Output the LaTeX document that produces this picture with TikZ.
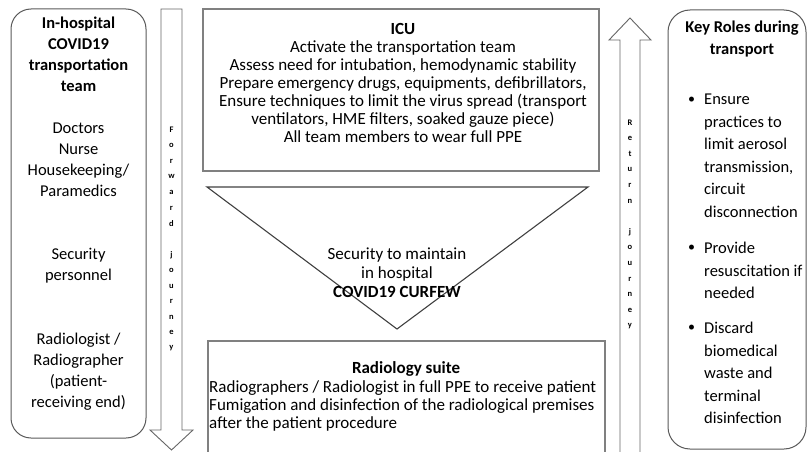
\documentclass[tikz,border=0pt]{standalone}
\usepackage{fontspec}
\setmainfont{Carlito}
\usepackage{tikz}
\usetikzlibrary{positioning}

\tikzset{
  sidebox/.style={draw=black!65, line width=1pt, rounded corners=20pt, inner sep=0pt},
  stagebox/.style={draw=black!50, line width=1.6pt, inner sep=0pt},
  blockarrow/.style={draw=black!60, line width=0.9pt, fill=white},
  sidetext/.style={font=\fontsize{16.5}{21}\selectfont, align=center, inner sep=0pt},
  stagetext/.style={font=\fontsize{17}{18}\selectfont, align=center, inner sep=0pt},
  roletext/.style={font=\fontsize{16.5}{22.5}\selectfont, align=left, inner sep=0pt, anchor=west},
  arrowletter/.style={font=\fontsize{8.5}{8.5}\selectfont\bfseries, inner sep=0pt}
}

\begin{document}
\begin{tikzpicture}[x=1pt, y=-1pt]
  \useasboundingbox (0,0) rectangle (809,452);
  \clip (0,0) rectangle (809,452);

  % left panel: the team
  \node[sidebox, minimum width=135pt, minimum height=429pt] (team) at (78.5,223.5) {};
  \node[sidetext, font=\fontsize{16.5}{21}\selectfont\bfseries] (teamtitle) at (78.5,54)
    {In-hospital\\COVID19\\transportation\\team};
  \node[sidetext] (staff) at (78.5,160) {Doctors\\Nurse\\Housekeeping/\\Paramedics};
  \node[sidetext] (security) at (78.5,266) {Security\\personnel};
  \node[sidetext] (radio) at (78.5,372) {Radiologist /\\Radiographer\\(patient-\\receiving end)};

  % forward journey arrow
  \coordinate (fwdtop) at (171.5,9);
  \coordinate (fwdtip) at (171.5,450);
  \draw[blockarrow] (161,9) -- (161,430) -- (150,430) -- (fwdtip) -- (193,430) -- (182,430) -- (182,9) -- cycle;
  \foreach \ch [count=\i] in {F,o,r,w,a,r,d}
    \node[arrowletter] (fwd\i) at ({171.5},{130+15.6*(\i-1)}) {\ch};
  \foreach \ch [count=\i] in {j,o,u,r,n,e,y}
    \node[arrowletter] (jfwd\i) at ({171.5},{130+15.6*(\i+7)}) {\ch};

  % ICU
  \node[stagebox, minimum width=396pt, minimum height=162pt] (icu) at (401,90) {};
  \node[stagetext] (icutext) at (403,83)
    {\textbf{ICU}\\
     Activate the transportation team\\
     Assess need for intubation, hemodynamic stability\\
     Prepare emergency drugs, equipments, defibrillators,\\
     Ensure techniques to limit the virus spread (transport\\
     ventilators, HME filters, soaked gauze piece)\\
     All team members to wear full PPE};

  % curfew triangle
  \coordinate (tl) at (207,187);
  \coordinate (tr) at (588,187);
  \coordinate (tb) at (397,329);
  \draw[draw=black!75, line width=1.1pt] (tl) -- (tr) -- (tb) -- cycle;
  \node[stagetext, font=\fontsize{17}{19}\selectfont] (curfew) at (397,273)
    {Security to maintain\\in hospital\\\textbf{COVID19 CURFEW}};

  % radiology suite
  \node[stagebox, minimum width=397pt, minimum height=139pt] (radiology) at (406.5,410.5) {};
  \node[stagetext] (radtitle) at (406,369) {\textbf{Radiology suite}};
  \node[stagetext, align=left, anchor=north west] (radtext) at (209,380)
    {Radiographers / Radiologist in full PPE to receive patient\\
     Fumigation and disinfection of the radiological premises\\
     after the patient procedure};

  % return journey arrow
  \coordinate (rettip) at (630,18);
  \draw[blockarrow] (620,470) -- (620,40) -- (609,40) -- (rettip) -- (651,40) -- (640,40) -- (640,470);
  \foreach \ch [count=\i] in {R,e,t,u,r,n}
    \node[arrowletter] (ret\i) at ({630},{123+15.6*(\i-1)}) {\ch};
  \foreach \ch [count=\i] in {j,o,u,r,n,e,y}
    \node[arrowletter] (jret\i) at ({630},{123+15.6*(\i+6)}) {\ch};

  % right panel: key roles
  \node[sidebox, rounded corners=22pt, minimum width=138pt, minimum height=439pt] (roles) at (737,229.5) {};
  \node[sidetext, font=\fontsize{16.5}{22}\selectfont\bfseries] (rolestitle) at (742,39)
    {Key Roles during\\transport};
  \node[roletext] (role1) at (704,156)
    {Ensure\\practices to\\limit aerosol\\transmission,\\circuit\\disconnection};
  \node[roletext] (role2) at (704,270.5) {Provide\\resuscitation if\\needed};
  \node[roletext] (role3) at (704,373) {Discard\\biomedical\\waste and\\terminal\\disinfection};
  \node[roletext, font=\fontsize{14}{14}\selectfont] (dot1) at (688,100) {\textbullet};
  \node[roletext, font=\fontsize{14}{14}\selectfont] (dot2) at (688,248) {\textbullet};
  \node[roletext, font=\fontsize{14}{14}\selectfont] (dot3) at (688,328) {\textbullet};
\end{tikzpicture}
\end{document}
